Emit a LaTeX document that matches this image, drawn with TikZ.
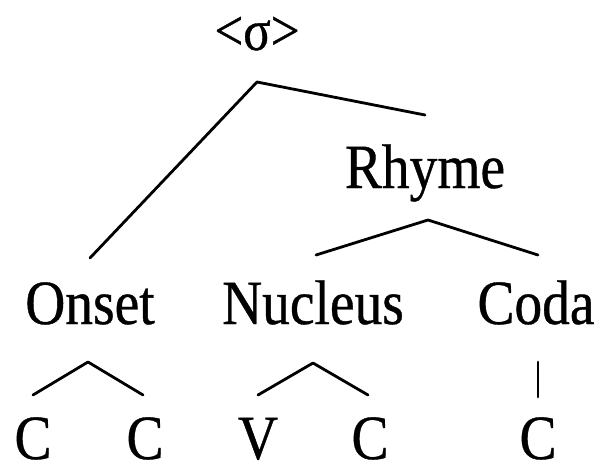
\documentclass[tikz,border=0pt]{standalone}
\usepackage{fontspec}
\setmainfont[FakeStretch=0.88,FakeBold=0.6]{Liberation Serif}
\begin{document}
\begin{tikzpicture}[x=1pt,y=-1pt,
  lbl/.style={anchor=base,inner sep=0pt,font=\fontsize{63}{70}\selectfont},
  br/.style={line width=2.8pt,line cap=round,line join=round}]
\useasboundingbox (0,0) rectangle (600,472);
% labels
\node[lbl] (sig) at (257,50) {\fontsize{58}{64}\selectfont<σ>};
\node[lbl] (rhyme) at (425,188) {Rhyme};
\node[lbl] (onset) at (90,324) {Onset};
\node[lbl] (nuc) at (313,324) {Nucleus};
\node[lbl] (coda) at (536,324) {Coda};
\node[lbl] (c1) at (33,459) {C};
\node[lbl] (c2) at (145,459) {C};
\node[lbl] (v) at (258,459) {V};
\node[lbl] (c3) at (370,459) {C};
\node[lbl] (c4) at (538,459) {C};
% branch points
\coordinate (sigtop) at (257,82);
\coordinate (sigL) at (90,258);
\coordinate (sigR) at (425,115);
\coordinate (rtop) at (428,220);
\coordinate (rL) at (316,255);
\coordinate (rR) at (538,255);
\coordinate (otop) at (88,362);
\coordinate (oL) at (33,395);
\coordinate (oR) at (143,395);
\coordinate (ntop) at (313,363);
\coordinate (nL) at (258,395);
\coordinate (nR) at (368,395);
\coordinate (ctop) at (538,362);
\coordinate (cB) at (538,397);
% branches
\draw[br] (sigL) -- (sigtop) -- (sigR);
\draw[br] (rL) -- (rtop) -- (rR);
\draw[br] (oL) -- (otop) -- (oR);
\draw[br] (nL) -- (ntop) -- (nR);
\draw[br] (ctop) -- (cB);
\end{tikzpicture}
\end{document}
